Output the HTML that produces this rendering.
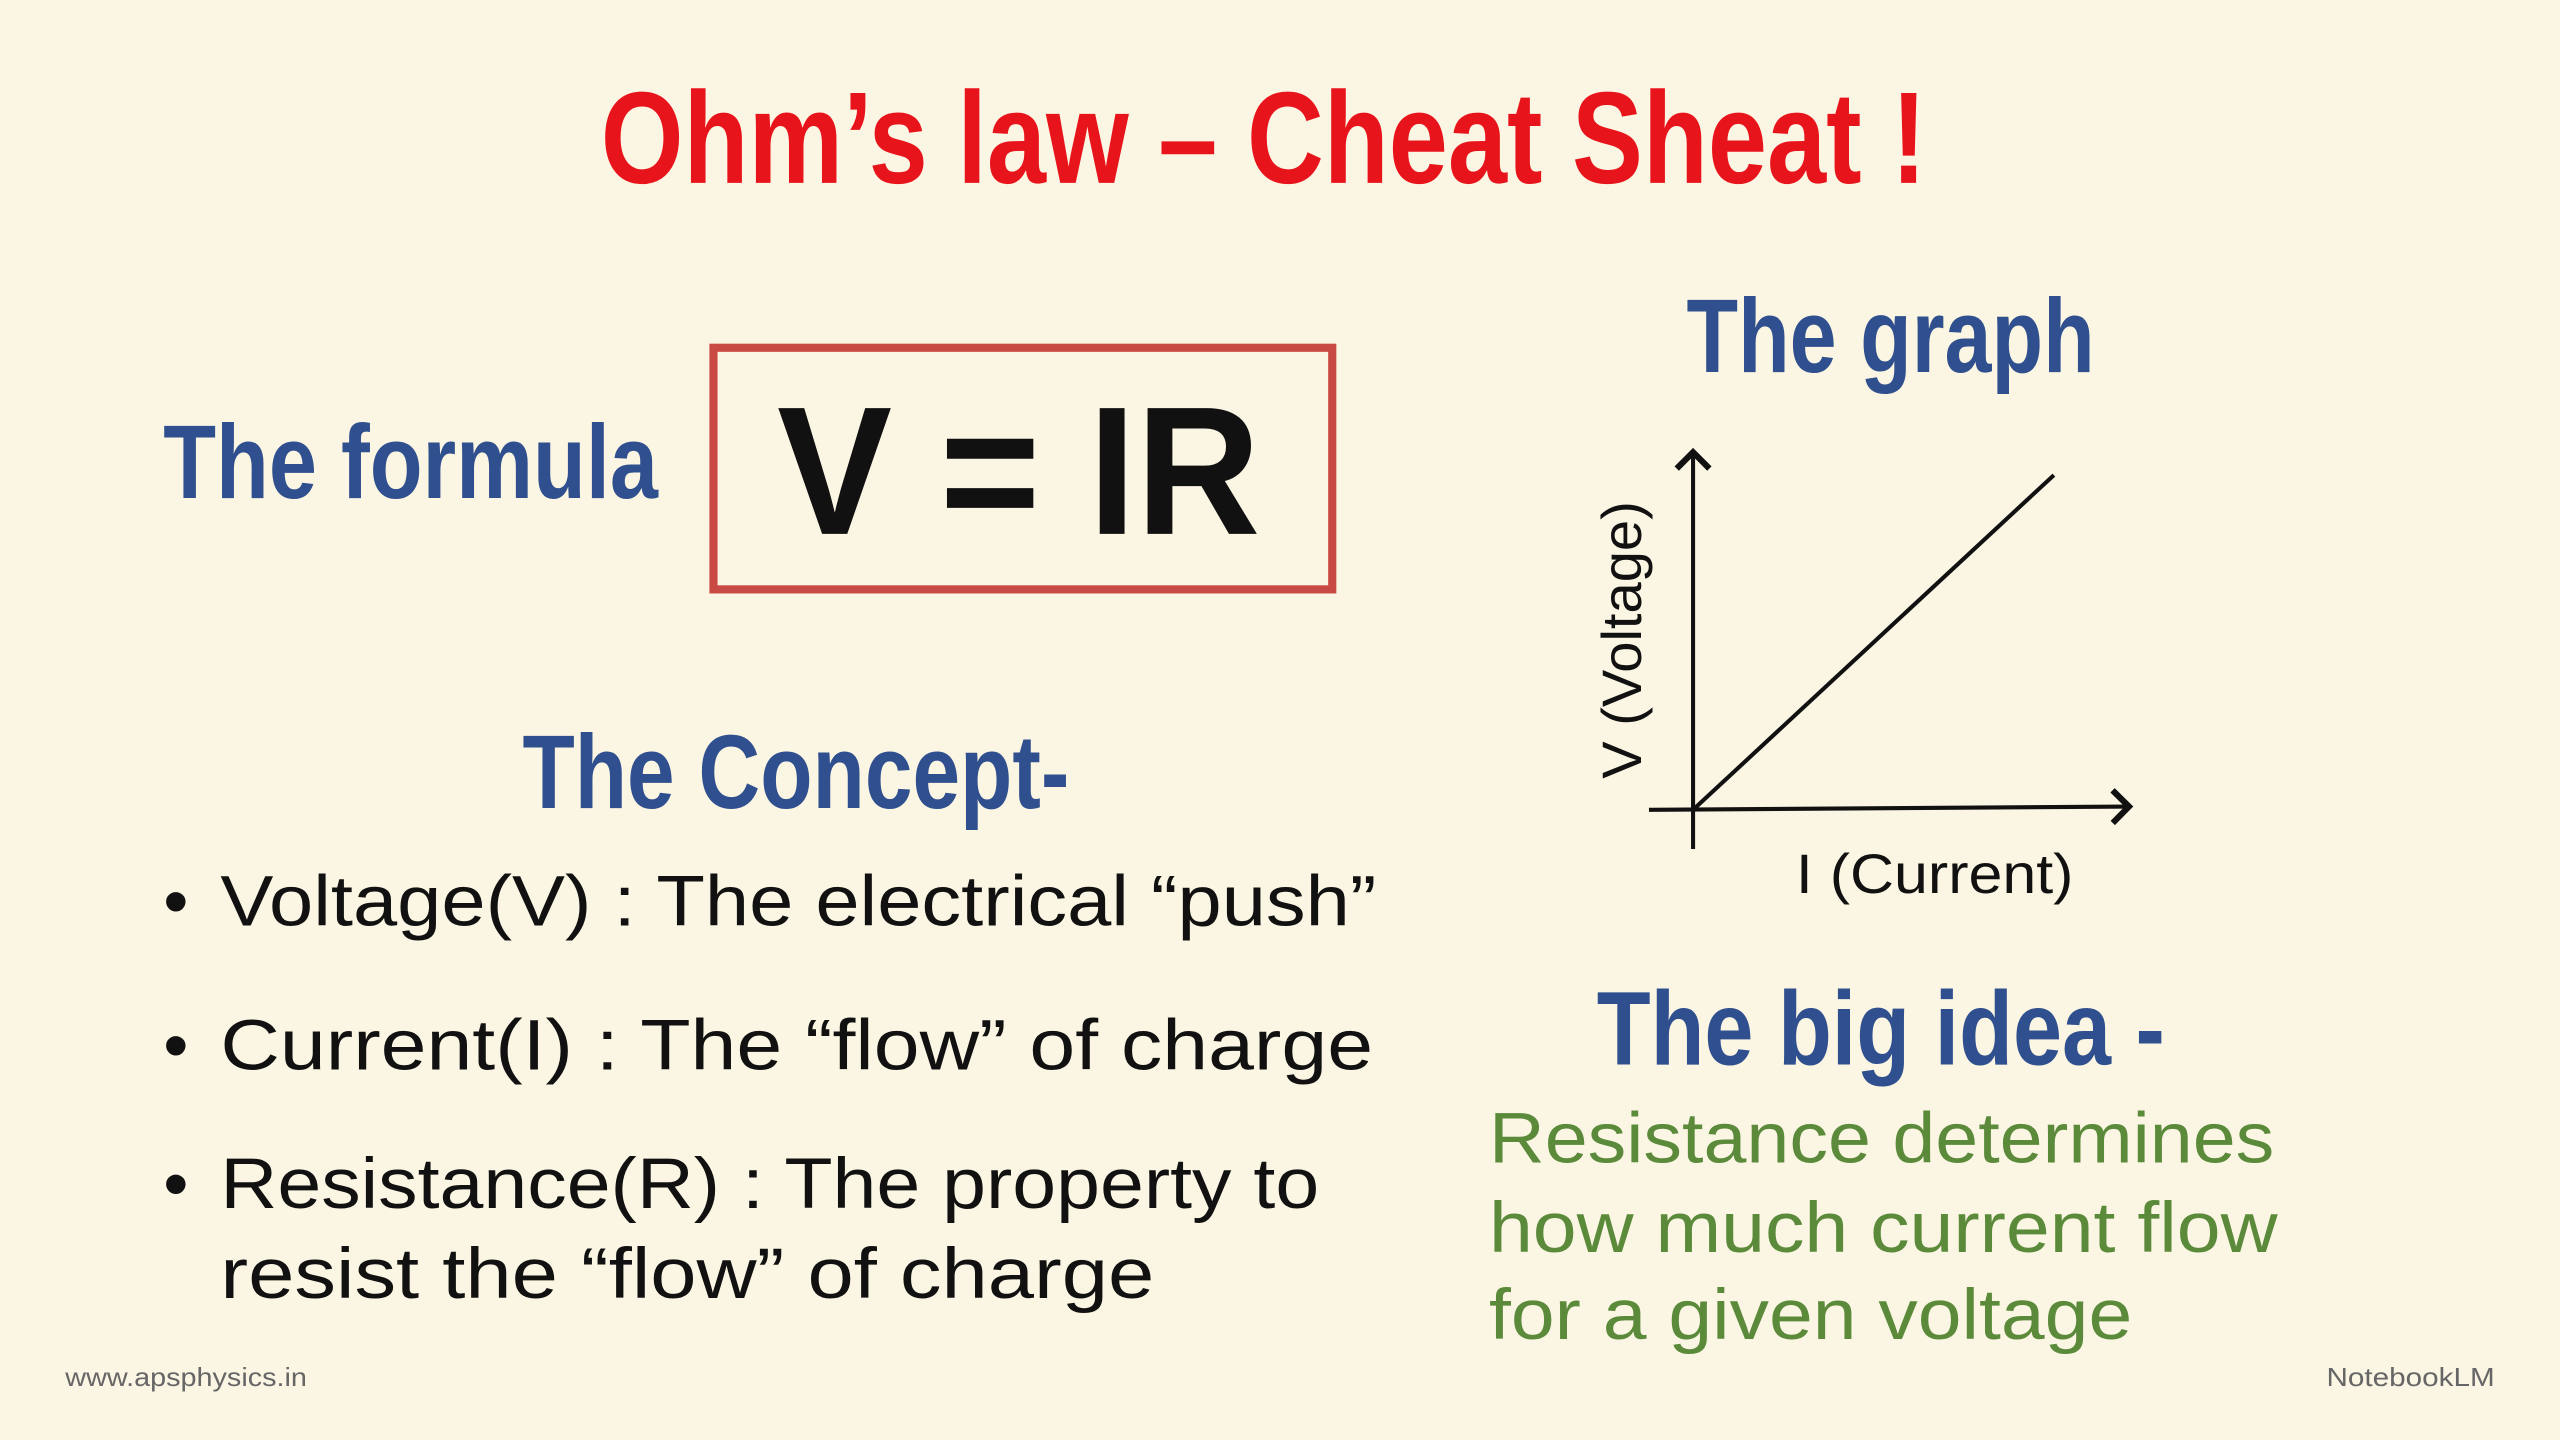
<!DOCTYPE html>
<html><head><meta charset="utf-8"><style>
html,body{margin:0;padding:0;background:#fbf6e3;}
svg{display:block}
</style></head><body>
<svg width="2560" height="1440" viewBox="0 0 1568 882" xmlns="http://www.w3.org/2000/svg">
<rect width="1568" height="882" fill="#fbf6e3"/>
<defs><marker id="a" markerWidth="10" markerHeight="10" refX="5" refY="5" orient="auto"><path d="M1,1 L5,5 L1,9" fill="none" stroke="#111" stroke-width="1.5"/></marker></defs>
<g font-family="'Liberation Sans Narrow','Liberation Sans',sans-serif" font-weight="bold">
<text x="368" y="112" font-size="80" fill="#e8141c" textLength="812" lengthAdjust="spacingAndGlyphs">Ohm’s law – Cheat Sheat !</text>
<g fill="#2f4f8e" font-size="64">
<text x="100" y="305" textLength="303" lengthAdjust="spacingAndGlyphs">The formula</text>
<text x="1033" y="228" textLength="250" lengthAdjust="spacingAndGlyphs">The graph</text>
<text x="320" y="495" textLength="335" lengthAdjust="spacingAndGlyphs">The Concept-</text>
<text x="978" y="652" textLength="348" lengthAdjust="spacingAndGlyphs">The big idea -</text>
</g></g>
<rect x="437" y="213" width="379" height="148" fill="none" stroke="#c94a44" stroke-width="5"/>
<text x="476" y="327" font-family="'Liberation Sans',sans-serif" font-weight="bold" font-size="112" fill="#111" textLength="296" lengthAdjust="spacingAndGlyphs">V = IR</text>
<line x1="1037" y1="520" x2="1037" y2="277" stroke="#111" stroke-width="2.5" marker-end="url(#a)"/>
<line x1="1010" y1="496" x2="1304" y2="494" stroke="#111" stroke-width="2.5" marker-end="url(#a)"/>
<line x1="1037" y1="496" x2="1258" y2="291" stroke="#111" stroke-width="2.5"/>
<g font-family="'Liberation Sans',sans-serif" fill="#111" font-size="34">
<text transform="translate(1005,392) rotate(-90)" text-anchor="middle" textLength="170" lengthAdjust="spacingAndGlyphs">V (Voltage)</text>
<text x="1100" y="547" textLength="170" lengthAdjust="spacingAndGlyphs">I (Current)</text>
</g>
<g font-family="'Liberation Sans',sans-serif" fill="#111" font-size="44">
<text x="100" y="567">•</text><text x="135" y="567" textLength="708" lengthAdjust="spacingAndGlyphs">Voltage(V) : The electrical “push”</text>
<text x="100" y="655">•</text><text x="135" y="655" textLength="706" lengthAdjust="spacingAndGlyphs">Current(I) : The “flow” of charge</text>
<text x="100" y="740">•</text><text x="135" y="740" textLength="673" lengthAdjust="spacingAndGlyphs">Resistance(R) : The property to</text>
<text x="135" y="795" textLength="572" lengthAdjust="spacingAndGlyphs">resist the “flow” of charge</text>
</g>
<g font-family="'Liberation Sans',sans-serif" fill="#5a8a3a" font-size="44">
<text x="912" y="712" textLength="481" lengthAdjust="spacingAndGlyphs">Resistance determines</text>
<text x="912" y="767" textLength="483" lengthAdjust="spacingAndGlyphs">how much current flow</text>
<text x="912" y="820" textLength="394" lengthAdjust="spacingAndGlyphs">for a given voltage</text>
</g>
<g font-family="'Liberation Sans',sans-serif" fill="#666" font-size="16">
<text x="40" y="849" textLength="148" lengthAdjust="spacingAndGlyphs">www.apsphysics.in</text>
<text x="1425" y="849" textLength="103" lengthAdjust="spacingAndGlyphs">NotebookLM</text>
</g>
</svg>
</body></html>
